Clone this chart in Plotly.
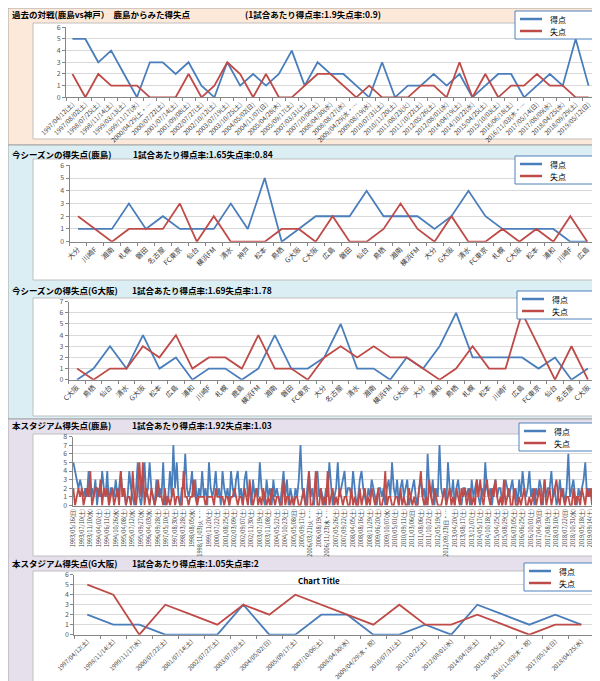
import plotly.graph_objects as go

W, H = 600, 681
FONT = "Noto Sans CJK JP"
BLUE = "#4a7ebb"
RED = "#be4b48"
GRID = "#d9d9d9"
AXIS = "#868686"

# ---------------- data ----------------
# Panel 1: past matches (Kashima vs Kobe)
p1_labels = ["1997/04/12(土)", "1997/08/02(土)", "1998/07/25(土)", "1998/11/14(土)", "1999/03/13(土)",
             "1999/11/17(水)", "2000/04/29(土・…", "2000/07/22(土)", "2001/07/14(土)", "2001/09/08(土)",
             "2002/07/27(土)", "2002/10/12(土)", "2003/07/19(土)", "2003/10/25(土)", "2004/05/02(日)",
             "2004/11/07(日)", "2005/04/28(木)", "2005/09/17(土)", "2007/03/31(土)", "2007/10/06(土)",
             "2008/04/30(水)", "2008/08/27(水)", "2009/04/29(水・…", "2009/08/19(水)", "2010/07/31(土)",
             "2010/11/20(土)", "2011/08/23(火)", "2011/10/22(土)", "2012/05/26(土)", "2012/08/01(水)",
             "2014/04/19(土)", "2014/10/22(水)", "2015/04/25(土)", "2015/10/03(土)", "2016/06/18(土)",
             "2016/11/03(木・…", "2017/05/14(日)", "2017/08/09(水)", "2018/04/25(水)", "2018/09/29(土)",
             "2019/05/12(日)"]
p1_for = [5, 5, 3, 4, 2, 0, 3, 3, 2, 3, 1, 0, 3, 1, 2, 1, 2, 4, 1,
          3, 2, 2, 1, 0, 3, 0, 1, 1, 2, 1, 2, 0, 1, 2, 2, 0, 1, 2, 1, 5, 1]
p1_against = [2, 0, 2, 1, 1, 1, 0, 0, 0, 2, 0, 1, 3, 2, 0, 2, 0, 0, 1,
              2, 2, 1, 0, 1, 0, 0, 0, 1, 1, 0, 3, 0, 2, 0, 1, 1, 2, 1, 1, 0, 0]

# Panel 2: this season (Kashima)
p2_labels = ["大分", "川崎F", "湘南", "札幌", "磐田", "名古屋", "FC東京", "仙台", "横浜FM", "清水", "神戸",
             "松本", "鳥栖", "G大阪", "C大阪", "広島", "磐田", "仙台", "鳥栖", "湘南", "横浜FM", "大分",
             "G大阪", "清水", "FC東京", "札幌", "C大阪", "松本", "浦和", "川崎F", "広島"]
p2_for = [1, 1, 1, 3, 1, 2, 1, 1, 1, 3, 1, 5, 0, 1, 2, 2, 2, 4, 2, 2, 2, 1, 2, 4, 2, 1, 1, 1, 1, 0, 0]
p2_against = [2, 1, 0, 1, 1, 1, 3, 0, 2, 0, 0, 0, 1, 1, 0, 2, 0, 0, 1, 3, 1, 0, 2, 0, 0, 1, 0, 1, 0, 2, 0]

# Panel 3: this season (G Osaka)
p3_labels = ["C大阪", "鳥栖", "仙台", "清水", "G大阪", "松本", "広島", "浦和", "川崎F", "札幌", "鹿島",
             "横浜FM", "湘南", "磐田", "FC東京", "大分", "名古屋", "清水", "湘南", "横浜FM", "G大阪", "大分",
             "浦和", "鳥栖", "札幌", "松本", "川崎F", "広島", "FC東京", "仙台", "名古屋", "C大阪"]
p3_for = [0, 1, 3, 1, 4, 1, 2, 0, 1, 1, 0, 1, 4, 1, 1, 2, 5, 1, 1, 0, 2, 1, 3, 6, 2, 2, 2, 2, 1, 2, 0, 1]
p3_against = [1, 0, 1, 1, 3, 2, 4, 1, 2, 2, 1, 4, 1, 1, 0, 2, 3, 2, 3, 2, 2, 1, 0, 1, 3, 1, 1, 6, 3, 0, 3, 0]

# Panel 4: this stadium (Kashima), labels shown every 5th match
p4_labels = ["1993/05/16(日)", "1993/07/10(土)", "1993/11/10(水)", "1994/04/02(土)", "1994/06/11(土)",
             "1994/10/26(水)", "1995/04/08(土)", "1995/07/12(水)", "1995/09/27(水)", "1996/04/03(水)",
             "1996/09/28(土)", "1997/05/10(土)", "1997/08/30(土)", "1998/03/28(土)", "1998/08/05(水)",
             "1998/11/03(火・…", "1999/11/20(土)", "2000/07/22(土)", "2001/08/25(土)", "2002/03/09(土)",
             "2002/09/07(土)", "2002/11/30(土)", "2003/07/19(土)", "2003/11/08(土)", "2004/05/22(土)",
             "2004/10/23(土)", "2005/05/08(日)", "2005/09/17(土)", "2006/03/21(火・…", "2006/08/19(土)",
             "2006/11/23(木・…", "2007/05/26(土)", "2007/09/22(土)", "2008/04/05(土)", "2008/08/16(土)",
             "2008/11/29(土)", "2009/06/20(土)", "2009/10/07(水)", "2010/05/01(土)", "2010/09/11(土)",
             "2011/03/06(日)", "2011/08/06(土)", "2011/10/22(土)", "2012/05/19(土)", "2012/09/23(日・…",
             "2013/04/20(土)", "2013/08/17(土)", "2013/12/07(土)", "2014/05/17(土)", "2014/10/18(土)",
             "2015/04/25(土)", "2015/08/29(土)", "2016/03/05(土)", "2016/06/25(土)", "2016/10/01(土)",
             "2017/04/30(日)", "2017/08/19(土)", "2018/03/10(土)", "2018/07/22(日)", "2018/10/31(水)",
             "2019/05/18(土)", "2019/09/14(土)"]
p4_for = [5, 4, 3, 2, 3, 2, 1, 2, 1, 4,
          1, 2, 1, 3, 0, 2, 1, 4, 2, 1,
          4, 0, 2, 2, 1, 3, 1, 2, 4, 1,
          2, 0, 1, 4, 2, 1, 0, 2, 5, 1,
          0, 2, 5, 1, 2, 5, 2, 1, 0, 3,
          1, 2, 1, 5, 0, 1, 1, 4, 1, 7,
          2, 5, 1, 0, 2, 2, 6, 2, 1, 2,
          4, 1, 3, 0, 2, 1, 4, 1, 2, 0,
          5, 2, 1, 2, 4, 1, 2, 0, 4, 2,
          1, 2, 0, 4, 2, 1, 3, 4, 1, 2,
          0, 3, 4, 1, 2, 0, 3, 1, 2, 1,
          5, 2, 1, 0, 3, 1, 2, 0, 3, 1,
          2, 1, 0, 2, 4, 1, 3, 0, 2, 1,
          0, 2, 1, 3, 7, 2, 1, 0, 2, 4,
          1, 2, 0, 3, 4, 1, 2, 1, 0, 2,
          1, 5, 2, 0, 1, 2, 5, 1, 2, 3,
          4, 1, 2, 2, 1, 4, 2, 0, 1, 3,
          4, 2, 1, 0, 2, 1, 3, 2, 1, 0,
          2, 2, 1, 2, 0, 2, 3, 1, 5, 2,
          1, 3, 0, 2, 3, 1, 2, 3, 0, 1,
          2, 3, 1, 0, 2, 3, 1, 2, 0, 6,
          2, 1, 3, 0, 2, 1, 7, 2, 1, 2,
          0, 5, 2, 1, 3, 0, 2, 3, 1, 0,
          2, 2, 1, 2, 0, 3, 1, 2, 3, 1,
          0, 2, 1, 5, 2, 1, 2, 0, 2, 3,
          1, 2, 2, 0, 1, 3, 2, 1, 2, 3,
          1, 2, 0, 3, 1, 4, 2, 1, 2, 4,
          1, 2, 0, 2, 1, 3, 2, 0, 3, 1,
          2, 2, 4, 1, 2, 0, 1, 3, 1, 2,
          0, 2, 6, 1, 2, 3, 1, 0, 2, 1,
          2, 3, 5, 1, 2, 1, 2, 1, 2, 2]
p4_against = [2, 0, 1, 2, 1, 2, 0, 1, 2, 1,
              4, 0, 1, 2, 2, 1, 3, 0, 2, 1,
              2, 0, 1, 2, 0, 1, 2, 0, 4, 1,
              2, 0, 1, 1, 0, 4, 1, 0, 2, 5,
              1, 5, 0, 2, 1, 0, 2, 1, 0, 1,
              3, 1, 1, 0, 2, 0, 1, 0, 1, 2,
              0, 1, 1, 0, 0, 4, 1, 1, 0, 1,
              1, 3, 1, 0, 1, 1, 1, 1, 0, 1,
              1, 1, 1, 0, 2, 1, 1, 1, 1, 0,
              1, 1, 0, 1, 1, 2, 1, 0, 1, 1,
              0, 2, 1, 0, 3, 1, 0, 1, 2, 0,
              1, 0, 2, 1, 0, 1, 0, 2, 1, 0,
              1, 1, 0, 0, 3, 0, 1, 1, 0, 1,
              0, 1, 1, 0, 0, 1, 2, 0, 0, 4,
              0, 0, 1, 4, 0, 0, 2, 0, 1, 0,
              4, 0, 1, 2, 0, 1, 0, 2, 1, 0,
              1, 1, 0, 0, 2, 0, 1, 0, 0, 2,
              0, 1, 2, 0, 1, 0, 2, 1, 0, 1,
              2, 0, 0, 1, 4, 0, 1, 1, 0, 0,
              1, 1, 0, 2, 0, 1, 0, 0, 2, 1,
              0, 1, 0, 0, 2, 4, 1, 0, 1, 0,
              3, 1, 0, 2, 1, 0, 0, 0, 1, 2,
              0, 1, 2, 0, 1, 0, 2, 1, 0, 2,
              1, 2, 0, 1, 2, 0, 1, 0, 3, 1,
              3, 1, 0, 2, 3, 1, 0, 2, 1, 3,
              1, 0, 1, 0, 3, 0, 1, 2, 0, 0,
              2, 0, 0, 1, 0, 1, 2, 0, 0, 1,
              0, 1, 2, 0, 1, 2, 0, 1, 3, 0,
              1, 2, 0, 1, 2, 3, 1, 0, 2, 1,
              0, 1, 1, 0, 0, 2, 0, 1, 1, 0,
              2, 1, 0, 2, 1, 2, 0, 1, 2, 2]
p4_label_step = 5

# Panel 5: this stadium (G Osaka)
p5_labels = ["1997/04/12(土)", "1998/11/14(土)", "1999/11/17(水)", "2000/07/22(土)", "2001/07/14(土)",
             "2002/07/27(土)", "2003/07/19(土)", "2004/05/02(日)", "2005/09/17(土)", "2007/10/06(土)",
             "2008/04/30(水)", "2009/04/29(水・祝)", "2010/07/31(土)", "2011/10/22(土)", "2012/08/01(水)",
             "2014/04/19(土)", "2015/04/25(土)", "2016/11/03(木・祝)", "2017/05/14(日)", "2018/04/25(水)"]
p5_for = [2, 1, 1, 0, 0, 0, 3, 0, 0, 2, 2, 0, 0, 1, 0, 3, 2, 1, 2, 1]
p5_against = [5, 4, 0, 3, 2, 1, 3, 2, 4, 3, 2, 1, 3, 1, 1, 2, 1, 0, 1, 1]

series_names = ["得点", "失点"]
titles = [
    ("過去の対戦(鹿島vs神戸）　鹿島からみた得失点", "(1試合あたり得点率:1.9失点率:0.9)"),
    ("今シーズンの得失点(鹿島)", "1試合あたり得点率:1.65失点率:0.84"),
    ("今シーズンの得失点(G大阪)", "1試合あたり得点率:1.69失点率:1.78"),
    ("本スタジアム得失点(鹿島)", "1試合あたり得点率:1.92失点率:1.03"),
    ("本スタジアム得失点(G大阪)", "1試合あたり得点率:1.05失点率:2"),
]
chart5_title = "Chart Title"

# ---------------- layout geometry (pixels) ----------------
def fx(px):
    return px / W


def fy(py):
    return 1 - py / H


panels = [
    dict(labels=p1_labels, f=p1_for, a=p1_against, ymax=6, step=1, angle=-45, fs=6.3,
         plot=(58, 587, 19.3, 89.3), title_y=6.5, title2_x=235, legend=(507, 3, 585, 31), boundary_ticks=True),
    dict(labels=p2_labels, f=p2_for, a=p2_against, ymax=6, step=1, angle=-45, fs=7,
         plot=(61.5, 587.8, 157.3, 233.7), title_y=146, title2_x=123, legend=(507, 148, 586, 176), boundary_ticks=True),
    dict(labels=p3_labels, f=p3_for, a=p3_against, ymax=7, step=1, angle=-45, fs=7,
         plot=(60.8, 588.2, 293.7, 371.7), title_y=282, title2_x=122, legend=(509, 283, 588, 311), boundary_ticks=True),
    dict(labels=p4_labels, f=p4_for, a=p4_against, ymax=8, step=p4_label_step, angle=-90, fs=5.6,
         plot=(64.5, 590, 428.5, 497.5), title_y=417, title2_x=122, legend=(511, 415, 589, 443), boundary_ticks=False),
    dict(labels=p5_labels, f=p5_for, a=p5_against, ymax=6, step=1, angle=-45, fs=6,
         plot=(66.3, 586.3, 566.7, 626.7), title_y=555, title2_x=122, legend=(516, 555, 595, 583), boundary_ticks=True),
]

bands = [(0, 137, "#fde9d9"), (137, 411, "#daeef3"), (411, 681, "#e5e0ec")]
white_boxes = [(25, 593, 15, 131), (25, 593, 151, 272), (25, 593, 290, 408),
               (25, 593, 426, 548), (25, 593, 563, 675)]

fig = go.Figure()
layout = dict(
    width=W, height=H, autosize=False,
    margin=dict(l=0, r=0, t=0, b=0),
    paper_bgcolor="white", plot_bgcolor="rgba(0,0,0,0)",
    font=dict(family=FONT, color="#000000"),
    showlegend=False,
    shapes=[], annotations=[],
)

for (y0, y1, col) in bands:
    layout["shapes"].append(dict(type="rect", xref="paper", yref="paper", x0=0, x1=1,
                                 y0=fy(y1), y1=fy(y0), fillcolor=col,
                                 line=dict(color="#a6a6a6", width=1), layer="below"))
for (x0, x1, y0, y1) in white_boxes:
    layout["shapes"].append(dict(type="rect", xref="paper", yref="paper", x0=fx(x0), x1=fx(x1),
                                 y0=fy(y1), y1=fy(y0), fillcolor="white",
                                 line=dict(color="#bfbfbf", width=1), layer="below"))

for k, p in enumerate(panels, start=1):
    sfx = "" if k == 1 else str(k)
    xa, ya = "x" + sfx, "y" + sfx
    n = len(p["f"])
    xs = list(range(n))
    for vals, name, col in ((p["f"], series_names[0], BLUE), (p["a"], series_names[1], RED)):
        fig.add_trace(go.Scatter(x=xs, y=vals, name=name, mode="lines",
                                 line=dict(color=col, width=1.8),
                                 xaxis=xa, yaxis=ya, hoverinfo="skip"))
    L, R, T, B = p["plot"]
    xaxis = dict(domain=[fx(L), fx(R)], range=[-0.5, n - 0.5], anchor=ya,
                 tickmode="array", tickvals=xs[::p["step"]], ticktext=p["labels"],
                 tickangle=p["angle"], tickfont=dict(size=p["fs"], color="#404040", family=FONT),
                 showgrid=False, zeroline=False, showline=True, linecolor=AXIS, linewidth=1,
                 ticks="", automargin=False, fixedrange=True)
    if p["boundary_ticks"]:
        xaxis["minor"] = dict(tickmode="linear", tick0=-0.5, dtick=1, ticks="outside",
                              ticklen=3, tickcolor=AXIS, showgrid=False)
    yaxis = dict(domain=[fy(B), fy(T)], range=[0, p["ymax"]], anchor=xa,
                 tickmode="linear", tick0=0, dtick=1,
                 showgrid=True, gridcolor=GRID, gridwidth=1, zeroline=False,
                 showline=True, linecolor=AXIS, linewidth=1,
                 ticks="outside", ticklen=3, tickcolor=AXIS,
                 tickfont=dict(size=7, color="#595959", family=FONT),
                 automargin=False, fixedrange=True)
    layout["xaxis" + sfx] = xaxis
    layout["yaxis" + sfx] = yaxis

    # legend key: box, line samples and series names
    bx0, by0, bx1, by1 = p["legend"]
    layout["shapes"].append(dict(type="rect", xref="paper", yref="paper",
                                 x0=fx(bx0), x1=fx(bx1), y0=fy(by1), y1=fy(by0),
                                 fillcolor="white", line=dict(color="#4f81bd", width=1), layer="above"))
    for j, (name, col) in enumerate(zip(series_names, (BLUE, RED))):
        ly = by0 + 8 + 12 * j
        layout["shapes"].append(dict(type="line", xref="paper", yref="paper",
                                     x0=fx(bx0 + 5), x1=fx(bx0 + 27), y0=fy(ly), y1=fy(ly),
                                     line=dict(color=col, width=2.5), layer="above"))
        layout["annotations"].append(dict(text=name, xref="paper", yref="paper", borderpad=0,
                                          x=fx(bx0 + 34), y=fy(ly), xanchor="left", yanchor="middle",
                                          showarrow=False, font=dict(size=8, family=FONT, color="#000000")))

    t1, t2 = titles[k - 1]
    for tx, txt in ((2, t1), (p["title2_x"], t2)):
        layout["annotations"].append(dict(text="<b>" + txt + "</b>", xref="paper", yref="paper",
                                          x=fx(tx), y=fy(p["title_y"]), xanchor="left", yanchor="middle",
                                          showarrow=False, font=dict(size=8.5, family=FONT, color="#000000")))

layout["annotations"].append(dict(text="<b>" + chart5_title + "</b>", xref="paper", yref="paper",
                                  x=fx(311), y=fy(572), xanchor="center", yanchor="middle", showarrow=False,
                                  font=dict(size=8, family=FONT, color="#000000")))

fig.update_layout(**layout)
fig.write_html("out.html")
